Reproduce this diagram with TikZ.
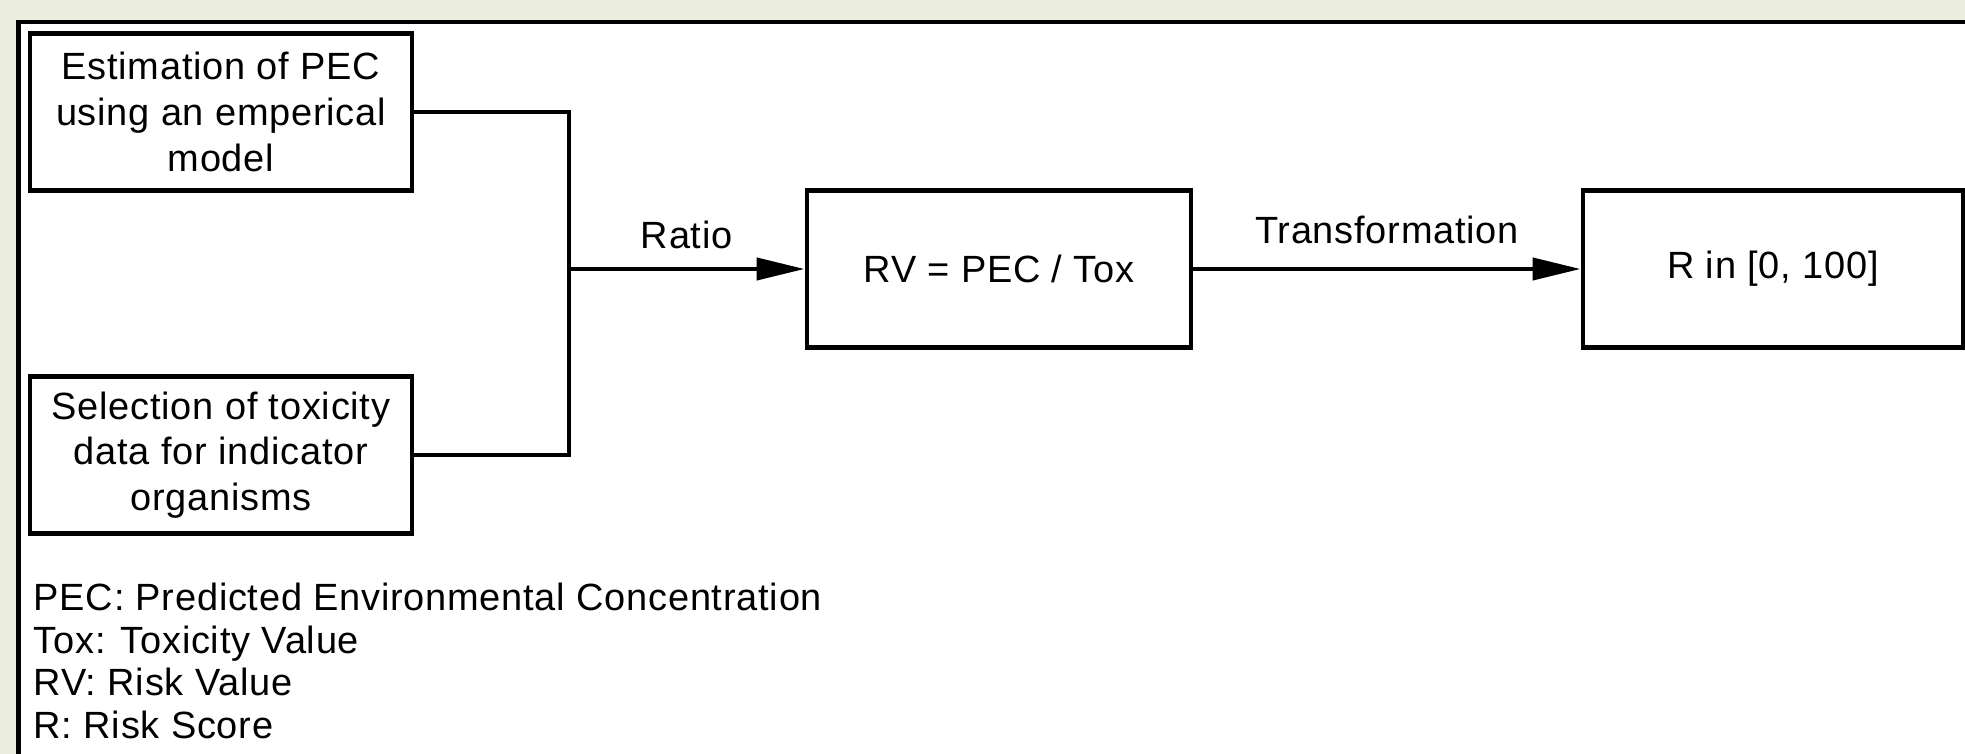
\documentclass[tikz,border=0pt]{standalone}
\usepackage{fontspec}
\setmainfont[LetterSpace=2]{Liberation Sans}
\usetikzlibrary{arrows.meta, positioning}
\definecolor{pagegreen}{RGB}{235,238,222}

\begin{document}
\begin{tikzpicture}[
  box/.style={draw, line width=1.4pt, minimum width=3.82cm, minimum height=1.57cm,
              inner sep=0pt, align=center, font=\fontsize{10.8}{13}\selectfont},
  conn/.style={line width=1.2pt},
  arr/.style={conn, -{Triangle[length=0.48cm, width=0.22cm]}},
  lbl/.style={font=\fontsize{10.8}{12}\selectfont}
]
  % Page and frame
  \useasboundingbox (0,0) rectangle (19.65,-7.54);
  \fill[pagegreen] (0,0) rectangle (19.65,-7.54);
  \fill[white] (0.185,-0.22) rectangle (19.7,-7.6);
  \draw[line width=1.4pt] (19.7,-0.22) -- (0.185,-0.22) -- (0.185,-7.6);

  % Inputs
  \node[box] (est) at (2.21,-1.12) {Estimation of PEC\\using an emperical\\model};
  \node[box] (sel) at (2.21,-4.55) {Selection of toxicity\\data for indicator\\organisms};

  % Ratio and score
  \node[box, minimum width=3.84cm] (rv) at (9.99,-2.69) {RV = PEC / Tox};
  \node[box, minimum width=3.80cm] (rscore) at (17.73,-2.69) {R in [0, 100]};
  \coordinate (junc) at (5.69,-2.69);

  % Connectors
  \draw[conn] (est.east) -| (junc);
  \draw[conn] (sel.east) -| (junc);
  \draw[arr] (junc) -- node[lbl, above=0.06cm] {Ratio} (rv.west);
  \draw[arr] (rv.east) -- node[lbl, above=0.11cm] {Transformation} (rscore.west);

  % Legend
  \node[anchor=north west, align=left, inner sep=0pt,
        font=\fontsize{10.8}{12.2}\selectfont] (legend) at (0.33,-5.82)
    {PEC: Predicted Environmental Concentration\\
     Tox: Toxicity Value\\
     RV: Risk Value\\
     R: Risk Score};
\end{tikzpicture}
\end{document}
